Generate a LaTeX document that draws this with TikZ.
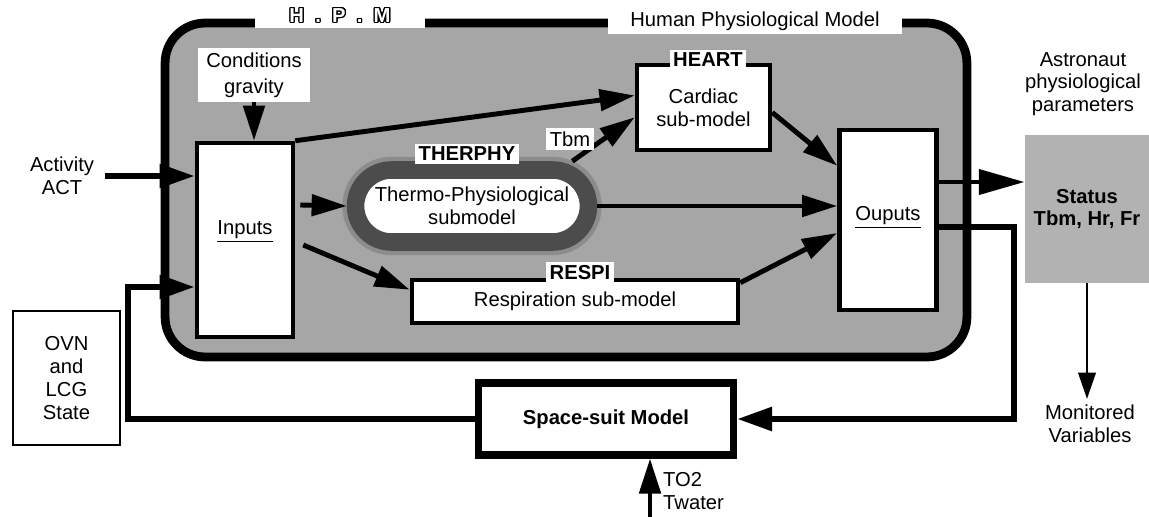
\documentclass[tikz,border=0pt]{standalone}
\usepackage{fontspec}
\setmainfont{Liberation Sans}
\usepackage[copies]{contour}
\usetikzlibrary{arrows.meta}
\usetikzlibrary{calc}

\contourlength{0.7pt}

\begin{document}
\begin{tikzpicture}[x=0.02cm,y=-0.02cm,
            every node/.style={font=\fontsize{11.5}{13}\selectfont,align=center},
            frame-node/.style={rectangle,draw,line width=5pt,fill=black!35,rounded corners=0.8cm,inner sep=0pt},
            box-node/.style={rectangle,draw,line width=2.6pt,fill=white,inner sep=0pt},
            halo-node/.style={rectangle,draw=black!70,line width=10pt,rounded corners=0.72cm,fill=white,inner sep=0pt,
                preaction={draw=black!45,line width=15pt}},
            tag-node/.style={fill=white,inner sep=2pt},
            head-node/.style={fill=white,inner sep=2pt,font=\fontsize{11.5}{13}\selectfont\bfseries},
            flow/.style={line width=2.8pt,-{Triangle[length=20pt,width=12pt]}},
            heavy-flow/.style={line width=3.6pt,-{Triangle[length=20pt,width=13pt]}},
            big-flow/.style={line width=2.8pt,-{Triangle[length=26pt,width=14pt]}},
            thin-flow/.style={line width=1.2pt,-{Triangle[length=15pt,width=10pt]}},
        ]
            \useasboundingbox (0,0) rectangle (1149,517);

            % main model frame
            \node[frame-node,minimum width=16.04cm,minimum height=6.68cm] (hpm) at (566,190) {};
            \node[tag-node,minimum width=3.42cm,minimum height=0.5cm,text=white] (hpm-tag) at (340,16) {\contour{black}{\bfseries H~~.~~P~~.~~M}};
            \node[tag-node,minimum width=5.9cm,minimum height=0.44cm] (hpm-name) at (755,21) {Human Physiological Model};

            \node[tag-node,minimum width=2.24cm,minimum height=1.08cm,font=\fontsize{11.5}{15}\selectfont] (cond) at (254,75) {Conditions\\gravity};
            \node[box-node,minimum width=1.92cm,minimum height=3.88cm] (inputs) at (245,240) {\raisebox{0.5cm}{\underline{Inputs}}};
            \node (act) at (62,176) {Activity\\ACT};

            \node[halo-node,minimum width=4.66cm,minimum height=1.44cm] (therphy) at (472,206) {Thermo-Physiological\\submodel};
            \node[head-node] (therphy-tag) at (467,154) {THERPHY};
            \node[box-node,minimum width=2.66cm,minimum height=1.7cm] (heart) at (703.5,107.5) {Cardiac\\sub-model};
            \node[head-node] (heart-tag) at (708,60) {HEART};
            \node[box-node,minimum width=6.52cm,minimum height=0.86cm] (respi) at (575,301.5) {Respiration sub-model};
            \node[head-node] (respi-tag) at (580,273) {RESPI};
            \node[box-node,minimum width=1.94cm,minimum height=3.6cm] (outputs) at (888,220) {\raisebox{0.26cm}{\underline{Ouputs}}};

            % outside the model
            \node[fill=black!30,minimum width=2.48cm,minimum height=2.96cm,font=\fontsize{11.5}{13}\selectfont\bfseries] (status) at (1087,209) {Status\\Tbm, Hr, Fr};
            \node (astro) at (1083,84) {Astronaut\\physiological\\parameters};
            \node (monitored) at (1090,424) {Monitored\\Variables};
            \node[box-node,line width=4pt,minimum width=5.1cm,minimum height=1.44cm,font=\fontsize{11.5}{13}\selectfont\bfseries] (suit) at (606,419) {Space-suit Model};
            \node[rectangle,draw,line width=1.2pt,minimum width=2.14cm,minimum height=2.68cm] (ovn) at (66.5,378) {OVN\\and\\LCG\\State};
            \node[anchor=west,align=left] (supply) at (657,491) {TO2\\Twater};
            \coordinate (supply-in) at (650,517);
            \coordinate (status-out) at ($(outputs.east)+(0,-38)$);

            \draw[flow] (cond.south) -- (cond.south |- inputs.north);
            \draw[heavy-flow] ([xshift=3pt]act.east) -- (act.east -| inputs.west);
            \draw[flow] (inputs.north east) -- ($(heart.west)+(0,-12)$);
            \draw[flow] ($(inputs.east)+(5,-35)$) -- (therphy.west);
            \draw[flow] ($(inputs.east)+(8,5)$) -- ($(respi.north west)+(0,12)$);
            \draw[flow] ($(therphy.north east)+(-25,0)$) -- ($(heart.south west)+(0,-35)$);
            \draw[flow] (therphy.east) -- (therphy.east -| outputs.west);
            \draw[flow] ($(respi.north east)+(0,5)$) -- ($(outputs.west)+(0,13)$);
            \draw[flow] ($(heart.east)+(0,5)$) -- ($(outputs.north west)+(0,38)$);
            \draw[big-flow] (status-out) -- (status-out -| status.west);
            \draw[thin-flow] (status.south) -- (status.south |- monitored.north);
            \draw[heavy-flow] ($(outputs.east)+(0,7)$) -- ++(75,0) |- (suit.east);
            \draw[heavy-flow] (suit.west) -- ++(-347,0) |- ($(inputs.west)+(0,47)$);
            \draw[flow] (supply-in) -- (supply-in |- suit.south);

            \node[tag-node] (tbm) at (570,139) {Tbm};
        \end{tikzpicture}
\end{document}
